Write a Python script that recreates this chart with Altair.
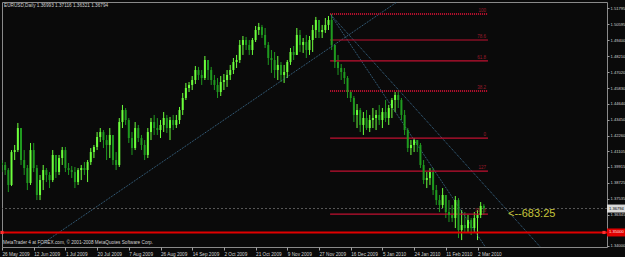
import altair as alt
import pandas as pd

# ---------------- texts ----------------
symbol_line = "EURUSD,Daily  1.36993 1.37116 1.36321 1.36794"
copyright_line = "MetaTrader 4 at FOREX.com, \u00a9 2001-2008 MetaQuotes Software Corp."
countdown = "<--683:25"

# ---------------- axes ----------------
date_labels = ["26 May 2009", "12 Jun 2009", "1 Jul 2009", "20 Jul 2009", "7 Aug 2009",
               "26 Aug 2009", "14 Sep 2009", "2 Oct 2009", "21 Oct 2009", "9 Nov 2009",
               "27 Nov 2009", "16 Dec 2009", "5 Jan 2010", "24 Jan 2010", "11 Feb 2010",
               "2 Mar 2010"]
date_ticks = [0, 10, 20, 30, 40, 50, 60, 70, 80, 90, 100, 110, 120, 130, 140, 150]
price_ticks = [1.51795, 1.50595, 1.49400, 1.48210, 1.47020, 1.45830, 1.44640, 1.43450,
               1.42260, 1.41105, 1.39915, 1.38725, 1.37535, 1.36345, 1.34000]

# ---------------- candles ----------------
first_open = 1.4020
high = [1.4043, 1.4028, 1.3983, 1.4118, 1.4156, 1.4321, 1.4283, 1.4118, 1.4006, 1.4171,
        1.4171, 1.4006, 1.3931, 1.4006, 1.3983, 1.3953, 1.4118, 1.4081, 1.4081, 1.4141,
        1.4141, 1.4021, 1.3998, 1.3991, 1.3983, 1.4006, 1.4028, 1.4043, 1.4133, 1.4156,
        1.4253, 1.4283, 1.4268, 1.4231, 1.4283, 1.4193, 1.4103, 1.4358, 1.4456, 1.4433,
        1.4358, 1.4253, 1.4328, 1.4306, 1.4231, 1.4193, 1.4283, 1.4358, 1.4381, 1.4358,
        1.4343, 1.4403, 1.4381, 1.4366, 1.4381, 1.4381, 1.4441, 1.4546, 1.4621, 1.4628,
        1.4673, 1.4748, 1.4741, 1.4718, 1.4823, 1.4793, 1.4741, 1.4681, 1.4658, 1.4673,
        1.4688, 1.4718, 1.4756, 1.4808, 1.4831, 1.4943, 1.4973, 1.4966, 1.4943, 1.4958,
        1.5048, 1.5071, 1.5056, 1.5033, 1.4928, 1.4868, 1.4853, 1.4823, 1.4778, 1.4756,
        1.4793, 1.4883, 1.4898, 1.5033, 1.5018, 1.4958, 1.4981, 1.4973, 1.5056, 1.5116,
        1.5093, 1.5056, 1.5108, 1.5123, 1.5138, 1.4906, 1.4831, 1.4763, 1.4733, 1.4673,
        1.4568, 1.4523, 1.4463, 1.4433, 1.4403, 1.4418, 1.4381, 1.4433, 1.4418, 1.4456,
        1.4433, 1.4493, 1.4456, 1.4508, 1.4553, 1.4568, 1.4508, 1.4418, 1.4283, 1.4193,
        1.4208, 1.4193, 1.4171, 1.4043, 1.3953, 1.3983, 1.3983, 1.3856, 1.3781, 1.3833,
        1.3781, 1.3743, 1.3706, 1.3773, 1.3758, 1.3668, 1.3653, 1.3631, 1.3608, 1.3653,
        1.3668, 1.3728, 1.37116]
low = [1.3953, 1.3931, 1.3803, 1.3848, 1.4043, 1.4103, 1.4006, 1.3931, 1.3818, 1.3856,
       1.3953, 1.3743, 1.3743, 1.3818, 1.3878, 1.3833, 1.3878, 1.3908, 1.3931, 1.4006,
       1.3953, 1.3931, 1.3908, 1.3833, 1.3856, 1.3893, 1.3931, 1.3878, 1.4006, 1.4058,
       1.4118, 1.4178, 1.4133, 1.4043, 1.4058, 1.4006, 1.3968, 1.3991, 1.4283, 1.4306,
       1.4171, 1.4081, 1.4118, 1.4178, 1.4118, 1.4043, 1.4058, 1.4193, 1.4231, 1.4231,
       1.4208, 1.4253, 1.4246, 1.4193, 1.4268, 1.4283, 1.4313, 1.4381, 1.4493, 1.4553,
       1.4568, 1.4613, 1.4643, 1.4606, 1.4643, 1.4643, 1.4606, 1.4568, 1.4508, 1.4523,
       1.4568, 1.4591, 1.4643, 1.4688, 1.4733, 1.4771, 1.4831, 1.4868, 1.4831, 1.4831,
       1.4928, 1.4981, 1.4958, 1.4883, 1.4756, 1.4696, 1.4658, 1.4643, 1.4628, 1.4621,
       1.4658, 1.4756, 1.4793, 1.4831, 1.4853, 1.4846, 1.4808, 1.4831, 1.4853, 1.4958,
       1.4958, 1.4958, 1.4996, 1.5018, 1.4868, 1.4733, 1.4681, 1.4643, 1.4613, 1.4508,
       1.4478, 1.4328, 1.4283, 1.4253, 1.4231, 1.4268, 1.4253, 1.4283, 1.4268, 1.4306,
       1.4283, 1.4328, 1.4306, 1.4358, 1.4403, 1.4433, 1.4343, 1.4231, 1.4103, 1.4081,
       1.4103, 1.4103, 1.3983, 1.3863, 1.3833, 1.3856, 1.3781, 1.3706, 1.3653, 1.3683,
       1.3608, 1.3578, 1.3578, 1.3533, 1.3458, 1.3443, 1.3503, 1.3503, 1.3481, 1.3503,
       1.3443, 1.3608, 1.36321]
close = [1.4006, 1.3968, 1.3856, 1.4103, 1.4118, 1.4283, 1.4043, 1.3983, 1.3871, 1.4118,
         1.3983, 1.3781, 1.3893, 1.3968, 1.3931, 1.3893, 1.4081, 1.3953, 1.4058, 1.4118,
         1.3983, 1.3968, 1.3953, 1.3878, 1.3968, 1.3983, 1.3968, 1.4028, 1.4103, 1.4141,
         1.4216, 1.4253, 1.4193, 1.4156, 1.4231, 1.4043, 1.4006, 1.4328, 1.4418, 1.4343,
         1.4208, 1.4133, 1.4283, 1.4208, 1.4156, 1.4081, 1.4253, 1.4328, 1.4283, 1.4268,
         1.4306, 1.4358, 1.4283, 1.4343, 1.4306, 1.4343, 1.4418, 1.4508, 1.4583, 1.4606,
         1.4643, 1.4718, 1.4681, 1.4658, 1.4793, 1.4718, 1.4643, 1.4606, 1.4553, 1.4628,
         1.4643, 1.4681, 1.4718, 1.4778, 1.4793, 1.4906, 1.4943, 1.4906, 1.4868, 1.4943,
         1.5018, 1.5041, 1.4981, 1.4906, 1.4808, 1.4793, 1.4718, 1.4756, 1.4681, 1.4703,
         1.4778, 1.4853, 1.4831, 1.4981, 1.4906, 1.4928, 1.4868, 1.4943, 1.5018, 1.5093,
         1.5003, 1.5018, 1.5056, 1.5093, 1.4906, 1.4778, 1.4733, 1.4703, 1.4658, 1.4553,
         1.4508, 1.4381, 1.4418, 1.4306, 1.4358, 1.4283, 1.4343, 1.4358, 1.4381, 1.4343,
         1.4403, 1.4358, 1.4433, 1.4493, 1.4531, 1.4493, 1.4381, 1.4268, 1.4133, 1.4156,
         1.4193, 1.4156, 1.4006, 1.3893, 1.3908, 1.3953, 1.3818, 1.3743, 1.3706, 1.3781,
         1.3653, 1.3631, 1.3608, 1.3743, 1.3518, 1.3556, 1.3533, 1.3593, 1.3533, 1.3608,
         1.3631, 1.36993, 1.36794]
opens = [first_open] + close[:-1]

# ---------------- objects on the chart ----------------
fib_levels = [1.5138, 1.4943, 1.4786, 1.4561, 1.4208, 1.3960, 1.3638]
fib_names = ["100", "78.6", "61.8", "38.2", "0", "127", "161.8"]
fib_dotted = [True, False, False, True, False, False, False]
fib_start, fib_end = 103.5, 153.3

trend_x1 = [11.4, 103.5, 103.5]
trend_p1 = [1.3394, 1.5138, 1.5138]
trend_x2 = [124.6, 152.4, 169.7]
trend_p2 = [1.5228, 1.3394, 1.3394]

bid_price = 1.36794
bid_label = "1.36794"
support_price = 1.3500
support_label = "1.35000"
support_marks_x = [0, 189.9]

# ---------------- styles ----------------
BG = "#0a0a0a"
UP = "#6cff3c"
DOWN = "#1f9a1f"
TXT = "#d0d0d0"
FS = 4.7
FSR = 4.1

xs = alt.Scale(domain=[0, 190.85], nice=False, zero=False)
ys = alt.Scale(domain=[1.3391, 1.5228], nice=False, zero=False)

label_expr = "[" + ",".join("'" + d + "'" for d in date_labels) + "][round(datum.value/10)]"

x_axis = alt.Axis(values=date_ticks, labelExpr=label_expr, labelAlign="left",
                  labelPadding=1, labelFontSize=FS, labelColor=TXT, labelFont="Liberation Sans",
                  tickColor="#a0a0a0", tickSize=3, domain=False, grid=False, title=None,
                  labelFlush=False, labelOverlap=False, labelBound=False)
y_axis = alt.Axis(orient="right", values=price_ticks, format=".5f", labelFontSize=FSR,
                  labelColor=TXT, labelFont="Liberation Sans", labelPadding=1,
                  tickColor="#a0a0a0", tickSize=2, domain=False, grid=False, title=None,
                  labelOverlap=False, labelFlush=False, labelBaseline="middle")


def X(field):
    return alt.X(field, type="quantitative", scale=xs, axis=x_axis)


def Y(field):
    return alt.Y(field, type="quantitative", scale=ys, axis=y_axis)


bars = pd.DataFrame({"i": list(range(len(close))), "open": opens, "high": high,
                     "low": low, "close": close})

candle_color = alt.condition("datum.close >= datum.open", alt.value(UP), alt.value(DOWN))

wicks = alt.Chart(bars).mark_rule(strokeWidth=1, clip=True).encode(
    x=X("i"), y=Y("low"), y2="high", color=candle_color)
bodies = alt.Chart(bars).mark_rule(strokeWidth=2, strokeCap="butt", clip=True).encode(
    x=X("i"), y=Y("open"), y2="close", color=candle_color)

trend_df = pd.DataFrame({"x1": trend_x1, "p1": trend_p1, "x2": trend_x2, "p2": trend_p2})
trends = alt.Chart(trend_df).mark_rule(color="#3d6f92", strokeWidth=1, strokeDash=[1, 1],
                                       clip=True).encode(
    x=X("x1"), x2="x2", y=Y("p1"), y2="p2")

bid_df = pd.DataFrame({"p": [bid_price], "t": [bid_label]})
bid_line = alt.Chart(bid_df).mark_rule(color="#5a5a5a", strokeWidth=1,
                                       strokeDash=[2, 2]).encode(y=Y("p"))

sup_df = pd.DataFrame({"p": [support_price], "t": [support_label]})
sup_line = alt.Chart(sup_df).mark_rule(color="#e00000", strokeWidth=2).encode(y=Y("p"))
sup_marks = alt.Chart(pd.DataFrame({"x": support_marks_x, "p": [support_price] * 2})).mark_square(
    size=10, color="#ff3030", filled=True, opacity=1).encode(x=X("x"), y=Y("p"))

fib_df = pd.DataFrame({"p": fib_levels, "name": fib_names, "dotted": fib_dotted,
                       "x1": [fib_start] * len(fib_levels), "x2": [fib_end] * len(fib_levels)})
fib_solid = alt.Chart(fib_df).transform_filter("!datum.dotted").mark_rule(
    color="#c01030", strokeWidth=1.2).encode(x=X("x1"), x2="x2", y=Y("p"))
fib_dot = alt.Chart(fib_df).transform_filter("datum.dotted").mark_rule(
    color="#c01030", strokeWidth=2, strokeDash=[1, 1]).encode(x=X("x1"), x2="x2", y=Y("p"))
fib_text = alt.Chart(fib_df).mark_text(align="right", baseline="bottom", dy=-1, dx=-2,
                                       fontSize=4.5, color="#9a1a2a",
                                       font="Liberation Sans").encode(
    x=X("x2"), y=Y("p"), text="name:N")

header = alt.Chart(pd.DataFrame({"t": [symbol_line]})).mark_text(
    align="left", baseline="middle", fontSize=FS, color=TXT, font="Liberation Sans").encode(
    x=alt.value(2), y=alt.value(3.5), text="t:N")
copy_txt = alt.Chart(pd.DataFrame({"t": [copyright_line]})).mark_text(
    align="left", baseline="middle", fontSize=FS, color=TXT, font="Liberation Sans").encode(
    x=alt.value(1), y=alt.value(240.5), text="t:N")
count_txt = alt.Chart(pd.DataFrame({"t": [countdown]})).mark_text(
    align="left", baseline="middle", fontSize=11, color="#c6c63a", font="Liberation Sans").encode(
    x=alt.value(506), y=alt.value(212), text="t:N")

bid_box = alt.Chart(bid_df).mark_rule(color="#d8d8d8", strokeWidth=8).encode(
    x=alt.value(605), x2=alt.value(625), y=Y("p"))
bid_box_txt = alt.Chart(bid_df).mark_text(align="left", baseline="middle", fontSize=FSR,
                                          color="#000000", font="Liberation Sans").encode(
    x=alt.value(607), y=Y("p"), text="t:N")
sup_box = alt.Chart(sup_df).mark_rule(color="#e00000", strokeWidth=8).encode(
    x=alt.value(605), x2=alt.value(625), y=Y("p"))
sup_box_txt = alt.Chart(sup_df).mark_text(align="left", baseline="middle", fontSize=FSR,
                                          color="#ffe0e0", font="Liberation Sans").encode(
    x=alt.value(607), y=Y("p"), text="t:N")

chart = alt.layer(
    wicks, trends, bid_line, sup_line, fib_solid, fib_dot, fib_text, bodies, sup_marks,
    header, copy_txt, count_txt, bid_box, bid_box_txt, sup_box, sup_box_txt,
).properties(
    width=605, height=245,
    background=BG,
    padding={"left": 2, "top": 2, "right": 18, "bottom": 10},
    autosize=alt.AutoSizeParams(type="none"),
).configure_view(fill=BG, stroke="#8a8a8a", strokeWidth=1)

chart.save("out.html", embed_options={"renderer": "svg", "actions": False})
